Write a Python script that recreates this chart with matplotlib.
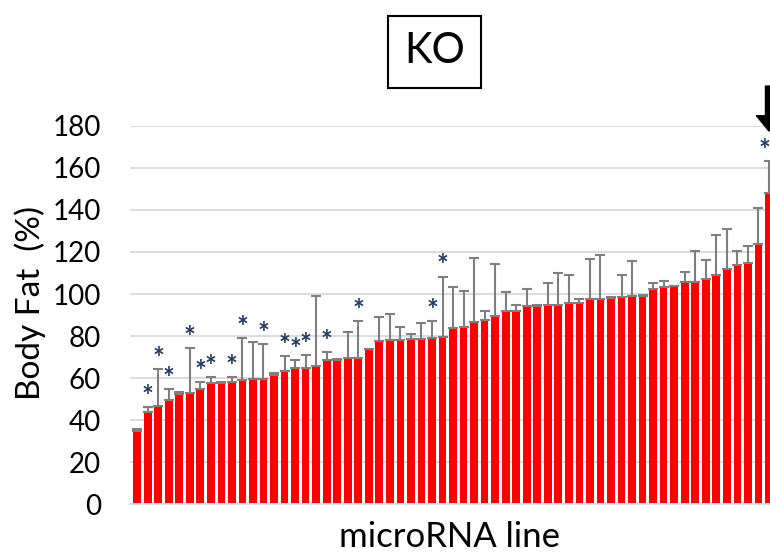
import numpy as np
import matplotlib
matplotlib.use("Agg")
import matplotlib.pyplot as plt
from matplotlib.patches import Rectangle

plt.rcParams['font.family'] = ['Lato', 'DejaVu Sans']

# body fat (%) per microRNA KO line, sorted
body_fat = [35.0, 43.6, 46.7, 49.5, 52.4, 52.7, 54.6, 57.8, 57.8, 58.3,
            58.9, 59.5, 59.7, 61.6, 63.3, 64.6, 64.6, 65.6, 68.6, 68.6,
            69.7, 69.7, 73.8, 77.6, 77.9, 77.9, 78.4, 78.6, 79.0, 79.7,
            83.6, 84.1, 86.8, 87.6, 89.4, 91.7, 92.1, 94.4, 94.4, 94.9,
            94.9, 95.6, 95.9, 97.4, 97.8, 98.0, 98.4, 98.9, 99.1, 102.5,
            103.3, 103.6, 105.6, 105.6, 107.3, 109.0, 111.7, 113.8, 114.9, 123.7,
            148.2]
upper_err = [0.5, 2.7, 17.6, 5.1, 0.9, 21.7, 3.4, 2.5, 0.5, 2.3,
             20.3, 17.8, 16.3, 0.6, 7.3, 4.0, 6.4, 33.6, 3.9, 0.4,
             12.0, 17.4, 0.2, 11.3, 12.6, 6.5, 2.7, 7.7, 8.1, 28.6,
             19.9, 17.5, 30.2, 4.1, 24.7, 9.3, 2.7, 7.8, 0.6, 10.2,
             15.3, 13.4, 1.9, 19.1, 21.0, 0.4, 10.6, 16.7, 0.2, 2.9,
             3.0, 0.4, 5.0, 15.0, 9.0, 19.1, 19.3, 6.7, 8.1, 17.1,
             15.1]
# lines marked with * (1-based position in the sorted list)
significant = [2, 3, 4, 6, 7, 8, 10, 11, 13, 15, 16, 17, 19, 22, 29, 30, 61]
yticks = [0, 20, 40, 60, 80, 100, 120, 140, 160, 180]

x = np.arange(len(body_fat))
vals = np.array(body_fat)
err = np.array(upper_err)

fig = plt.figure(figsize=(7.7, 5.56), dpi=100)
ax = fig.add_axes([0.1688, 0.0935, 0.8312, 0.6799])

ax.bar(x, vals, width=0.73, color='#ff0000', zorder=2)
ax.errorbar(x, vals, yerr=[np.zeros_like(err), err], fmt='none',
            ecolor='#7f7f7f', elinewidth=1.5, capsize=3.6, capthick=1.5, zorder=3)

xmax = 60.1
for i in significant:
    xs, ha = i - 1, 'center'
    if xs + 0.4 > xmax:  # last bar sits on the edge, keep its star inside
        xs, ha = xmax, 'right'
    ax.text(xs, vals[i - 1] + err[i - 1] + 4.8, '*', ha=ha, va='center',
            fontsize=20, fontweight='bold', color='#1f3864', clip_on=False, zorder=4)

# arrow pointing at the top line
ax.annotate('', xy=(60, 177.6), xytext=(60, 199),
            arrowprops=dict(facecolor='black', edgecolor='black', width=5,
                            headwidth=18, headlength=11, shrink=0),
            annotation_clip=False)

ax.set_ylim(0, 180)
ax.set_xlim(-0.68, xmax)
ax.set_yticks(yticks)
ax.set_xticks([])
ax.tick_params(axis='y', length=0, pad=21, labelsize=20)
ax.yaxis.grid(True, color='#d9d9d9', linewidth=1.3, zorder=0)
ax.set_axisbelow(True)
for s in ['top', 'right', 'left']:
    ax.spines[s].set_visible(False)
ax.spines['bottom'].set_color('#d9d9d9')
ax.spines['bottom'].set_linewidth(1.3)

ax.set_xlabel('microRNA line', fontsize=25, labelpad=12)
fig.text(0.039, 0.455, 'Body Fat  (%)', rotation=90, ha='center', va='center', fontsize=24)

# KO title box
fig.patches.append(Rectangle((0.504, 0.8417), 0.121, 0.1295, transform=fig.transFigure,
                             fill=False, edgecolor='black', linewidth=1.5))
fig.text(0.565, 0.9077, 'KO', ha='center', va='center', fontsize=30)

fig.savefig('out.png', dpi=100)
